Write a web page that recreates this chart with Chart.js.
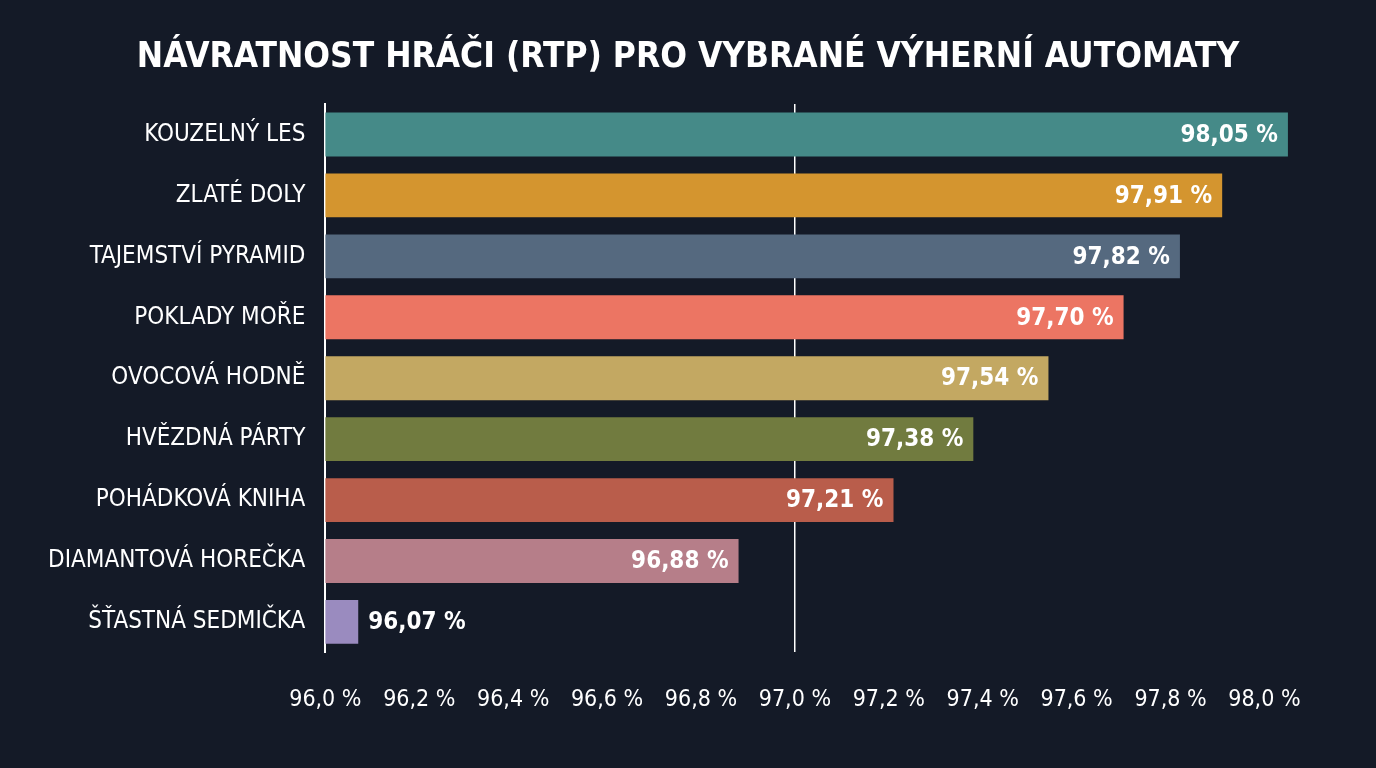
<!DOCTYPE html>
<html>
<head>
<meta charset="utf-8">
<script src="https://cdn.jsdelivr.net/npm/chart.js@4.4.1/dist/chart.umd.min.js"></script>
<style>
  html, body { margin: 0; padding: 0; background: #141a27; }
  #wrap { width: 1376px; height: 768px; }
</style>
</head>
<body>
<div id="wrap"><canvas id="chart" width="1376" height="768"></canvas></div>
<script>
const FONT = '"DejaVu Sans Condensed", "Roboto", sans-serif';

// data
const games = [
  'KOUZELNÝ LES', 'ZLATÉ DOLY', 'TAJEMSTVÍ PYRAMID', 'POKLADY MOŘE',
  'OVOCOVÁ HODNĚ', 'HVĚZDNÁ PÁRTY', 'POHÁDKOVÁ KNIHA',
  'DIAMANTOVÁ HOREČKA', 'ŠŤASTNÁ SEDMIČKA'
];
const rtp = [98.05, 97.91, 97.82, 97.70, 97.54, 97.38, 97.21, 96.88, 96.07];
const tickValues = [96.0, 96.2, 96.4, 96.6, 96.8, 97.0, 97.2, 97.4, 97.6, 97.8, 98.0];
const barColors = [
  '#458a88', '#d4952f', '#55697f', '#ec7563', '#c3a862',
  '#717b3f', '#b95d4b', '#b67e89', '#9a8bbf'
];
const titleText = 'NÁVRATNOST HRÁČI (RTP) PRO VYBRANÉ VÝHERNÍ AUTOMATY';

const fmt = (v, d) => v.toFixed(d).replace('.', ',') + ' %';

// title centred on the whole canvas, value labels at the end of each bar
const overlay = {
  id: 'overlay',
  afterDatasetsDraw(chart) {
    const ctx = chart.ctx;
    const meta = chart.getDatasetMeta(0);
    const left = chart.chartArea.left;
    ctx.save();
    ctx.font = 'bold 24px ' + FONT;
    ctx.textBaseline = 'middle';
    ctx.fillStyle = '#ffffff';
    meta.data.forEach((bar, i) => {
      const txt = fmt(rtp[i], 2);
      const w = ctx.measureText(txt).width;
      if (bar.x - left > w + 24) {
        ctx.textAlign = 'right';
        ctx.fillText(txt, bar.x - 10, bar.y + 1);
      } else {
        ctx.textAlign = 'left';
        ctx.fillText(txt, bar.x + 10, bar.y + 1);
      }
    });
    ctx.font = 'bold 35px ' + FONT;
    ctx.textAlign = 'center';
    ctx.fillText(titleText, chart.width / 2, 58);
    ctx.restore();
  }
};

new Chart(document.getElementById('chart'), {
  type: 'bar',
  data: {
    labels: games,
    datasets: [{
      data: rtp,
      backgroundColor: barColors,
      borderWidth: 0,
      barPercentage: 0.72,
      categoryPercentage: 1
    }]
  },
  options: {
    indexAxis: 'y',
    responsive: false,
    animation: false,
    layout: { padding: { left: 28, right: 74, top: 104, bottom: 20 } },
    plugins: {
      legend: { display: false },
      tooltip: { enabled: false }
    },
    scales: {
      x: {
        min: 96,
        max: 98.08,
        afterBuildTicks: (axis) => {
          axis.ticks = tickValues.map(v => ({ value: v }));
        },
        ticks: {
          color: '#ffffff',
          font: { family: FONT, size: 23 },
          padding: 34,
          callback: (v) => fmt(v, 1)
        },
        grid: {
          drawTicks: false,
          color: (c) => (c.tick && Math.abs(c.tick.value - 97) < 1e-6) ? '#ffffff' : 'rgba(0,0,0,0)',
          lineWidth: 1.5
        },
        border: { display: false }
      },
      y: {
        ticks: {
          color: '#ffffff',
          font: { family: FONT, size: 24 },
          padding: 20
        },
        grid: { display: false, drawTicks: false },
        border: { display: true, color: '#ffffff', width: 2 }
      }
    }
  },
  plugins: [overlay]
});
</script>
</body>
</html>
